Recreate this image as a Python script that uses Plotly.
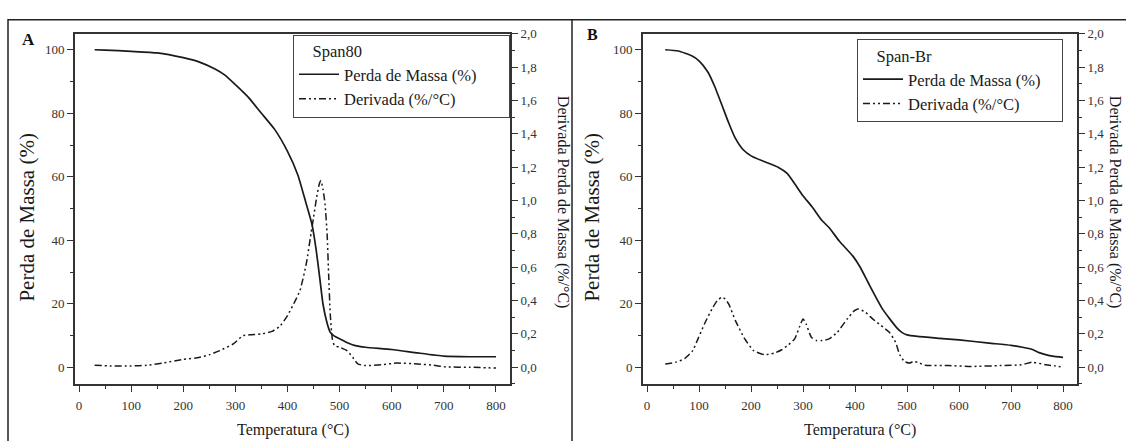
import plotly.graph_objects as go

# ---------------- data ----------------
# Panel A (Span80)
tA_mass = [30, 50, 100, 150, 200, 230, 260, 280, 300, 325, 350, 375, 400, 420, 435, 447, 455, 462, 468, 475, 482, 490, 500, 515, 530, 550, 600, 650, 700, 750, 800]
mA_mass = [100, 99.9, 99.5, 99, 97.5, 96.2, 94, 92, 89, 85, 80, 75, 68, 60.5, 52, 45, 37, 28, 20, 14.5, 11, 9.8, 9, 7.7, 6.8, 6.3, 5.6, 4.5, 3.5, 3.3, 3.3]

tA_der = [30, 60, 100, 130, 160, 200, 230, 250, 270, 296, 315, 330, 350, 370, 385, 400, 415, 424, 436, 445, 450, 456, 461, 464, 468, 472, 476, 479, 482, 486, 490, 500, 514, 525, 535, 550, 580, 610, 650, 680, 705, 750, 800]
dA_der = [0.012, 0.008, 0.008, 0.012, 0.025, 0.047, 0.058, 0.075, 0.1, 0.14, 0.19, 0.195, 0.2, 0.215, 0.245, 0.31, 0.4, 0.46, 0.62, 0.8, 0.9, 1.02, 1.1, 1.12, 1.07, 0.98, 0.8, 0.55, 0.32, 0.17, 0.13, 0.12, 0.1, 0.06, 0.02, 0.01, 0.015, 0.025, 0.02, 0.012, 0.002, 0.0, -0.005]

# Panel B (Span-Br)
tB_mass = [35, 60, 86, 100, 117, 130, 144, 157, 169, 185, 201, 225, 252, 270, 284, 300, 317, 336, 350, 370, 396, 410, 428, 453, 480, 490, 500, 520, 562, 600, 658, 700, 722, 741, 754, 770, 780, 800]
mB_mass = [100, 99.6, 98.1, 96.5, 93, 88.5, 82.6, 77, 72.4, 68.5, 66.5, 64.8, 63, 61, 57.8, 54, 50.6, 46.3, 44, 39.7, 35, 31.5, 25.8, 18.3, 12.5, 11, 10.2, 9.7, 9.1, 8.6, 7.6, 6.9, 6.3, 5.6, 4.6, 3.8, 3.5, 3.1]

tB_der = [35, 55, 73, 88, 98, 112, 125, 135, 144, 150, 157, 170, 188, 205, 226, 245, 259, 272, 284, 293, 300, 306, 316, 326, 336, 350, 366, 385, 399, 406, 420, 434, 450, 466, 478, 486, 495, 505, 512, 520, 535, 580, 624, 680, 720, 741, 767, 785, 800]
dB_der = [0.02, 0.03, 0.053, 0.1, 0.17, 0.27, 0.35, 0.4, 0.42, 0.41, 0.38, 0.28, 0.17, 0.1, 0.075, 0.085, 0.105, 0.135, 0.17, 0.24, 0.29, 0.26, 0.18, 0.16, 0.16, 0.17, 0.21, 0.29, 0.34, 0.35, 0.33, 0.29, 0.25, 0.21, 0.15, 0.075, 0.035, 0.025, 0.035, 0.03, 0.012, 0.01, 0.005, 0.01, 0.015, 0.03, 0.015, 0.008, 0.0]

series_names = ["Perda de Massa (%)", "Derivada (%/°C)"]
legend_titles = ["Span80", "Span-Br"]
panel_labels = ["A", "B"]
x_title = "Temperatura (°C)"
y_left_title = "Perda de Massa (%)"
y_right_title = "Derivada Perda de Massa (%/°C)"

# ---------------- style ----------------
W, H = 1126, 441
FONT = "Liberation Serif, 'Times New Roman', Times, 'DejaVu Serif', serif"
INK = "#1a1a1a"
AX = "#333333"
DASH = "7px,3px,2px,3px,2px,3px"
NB = "\u00a0"

def px_x(p):
    return p / W

def px_y(p):
    return 1 - p / H

fig = go.Figure()

SM = dict(shape="spline", smoothing=0.5)

# Panel A
fig.add_trace(go.Scatter(x=tA_mass, y=mA_mass, mode="lines", name=series_names[0],
                         line=dict(color=INK, width=1.7, **SM), xaxis="x", yaxis="y", legend="legend"))
fig.add_trace(go.Scatter(x=tA_der, y=dA_der, mode="lines", name=series_names[1],
                         line=dict(color=INK, width=1.5, dash=DASH, **SM), xaxis="x", yaxis="y2", legend="legend"))
# Panel B
fig.add_trace(go.Scatter(x=tB_mass, y=mB_mass, mode="lines", name=series_names[0],
                         line=dict(color=INK, width=1.7, **SM), xaxis="x2", yaxis="y3", legend="legend2"))
fig.add_trace(go.Scatter(x=tB_der, y=dB_der, mode="lines", name=series_names[1],
                         line=dict(color=INK, width=1.5, dash=DASH, **SM), xaxis="x2", yaxis="y4", legend="legend2"))

ydom = [px_y(383), px_y(27)]
xr = [-7.7, 826.9]
yl = [-5.25, 105.1]
yr = [-0.1, 2.002]
tickfont = dict(family=FONT, size=13, color=AX)

def xax(dom, anchor):
    return dict(domain=dom, anchor=anchor, range=xr, tick0=0, dtick=100,
                ticks="outside", ticklen=6, tickwidth=1.3, tickcolor=AX,
                minor=dict(dtick=50, ticks="outside", ticklen=3.5, tickwidth=1.2, tickcolor=AX),
                showline=True, linecolor=AX, linewidth=1.6, mirror=True,
                showgrid=False, zeroline=False, tickfont=tickfont, ticklabelstandoff=3)

def ylax(anchor):
    return dict(domain=ydom, anchor=anchor, range=yl, tick0=0, dtick=20,
                ticks="outside", ticklen=6, tickwidth=1.3, tickcolor=AX,
                minor=dict(dtick=10, ticks="outside", ticklen=3.5, tickwidth=1.2, tickcolor=AX),
                showline=True, linecolor=AX, linewidth=1.6,
                showgrid=False, zeroline=False, tickfont=tickfont)

def yrax(anchor, over):
    return dict(domain=ydom, anchor=anchor, overlaying=over, side="right", range=yr,
                tick0=0, dtick=0.2, tickformat=".1f",
                ticks="outside", ticklen=6, tickwidth=1.3, tickcolor=AX,
                minor=dict(dtick=0.1, ticks="outside", ticklen=3.5, tickwidth=1.2, tickcolor=AX),
                showline=True, linecolor=AX, linewidth=1.6,
                showgrid=False, zeroline=False, tickfont=tickfont)

legfont = dict(family=FONT, size=16.5, color=INK)

def legend(x0, y0, title, pad):
    return dict(x=px_x(x0), y=px_y(y0), xanchor="left", yanchor="top",
                bordercolor="#444444", borderwidth=1, bgcolor="white",
                font=legfont, title=dict(font=legfont, text=NB * 4 + title + NB * pad),
                tracegroupgap=0, itemwidth=40)

leg1 = legend(293, 28, legend_titles[0], 35)
leg2 = legend(857, 33, legend_titles[1], 31)

annotations = []
for lab, xp, yp, fs in [(panel_labels[0], 28, 33, 17), (panel_labels[1], 592, 28, 16)]:
    annotations.append(dict(text="<b>%s</b>" % lab, x=px_x(xp), y=px_y(yp), xref="paper", yref="paper",
                            showarrow=False, xanchor="center", yanchor="middle",
                            font=dict(family=FONT, size=fs, color="#111111")))
for xc in [293, 860]:
    annotations.append(dict(text=x_title, x=px_x(xc), y=px_y(430), xref="paper", yref="paper",
                            showarrow=False, xanchor="center", yanchor="middle",
                            font=dict(family=FONT, size=16, color=INK)))
for xc in [27, 592]:
    annotations.append(dict(text=y_left_title, x=px_x(xc), y=px_y(214), xref="paper", yref="paper",
                            showarrow=False, xanchor="center", yanchor="middle", textangle=-90,
                            font=dict(family=FONT, size=21, color=INK)))
for xc in [563, 1115]:
    annotations.append(dict(text=y_right_title, x=px_x(xc), y=px_y(198), xref="paper", yref="paper",
                            showarrow=False, xanchor="center", yanchor="middle", textangle=90,
                            font=dict(family=FONT, size=16, color=INK)))

shapes = [
    dict(type="rect", xref="paper", yref="paper", x0=px_x(8), x1=1.05, y0=-0.1, y1=px_y(13),
         line=dict(color="#222222", width=1.5), fillcolor="rgba(0,0,0,0)", layer="below"),
    dict(type="line", xref="paper", yref="paper", x0=px_x(572), x1=px_x(572), y0=-0.1, y1=px_y(13),
         line=dict(color="#222222", width=1.5), layer="below"),
]

fig.update_layout(
    width=W, height=H,
    margin=dict(l=0, r=0, t=0, b=0),
    paper_bgcolor="white", plot_bgcolor="white",
    separators=",.",
    showlegend=True,
    xaxis=xax([px_x(75), px_x(510)], "y"),
    xaxis2=xax([px_x(643), px_x(1077)], "y3"),
    yaxis=ylax("x"),
    yaxis2=yrax("x", "y"),
    yaxis3=ylax("x2"),
    yaxis4=yrax("x2", "y3"),
    legend=leg1,
    legend2=leg2,
    annotations=annotations,
    shapes=shapes,
    font=dict(family=FONT, color=INK),
)

fig.write_html("out.html", config={"displayModeBar": False},
               post_script="document.body.style.margin='0';document.body.style.overflow='hidden';")
